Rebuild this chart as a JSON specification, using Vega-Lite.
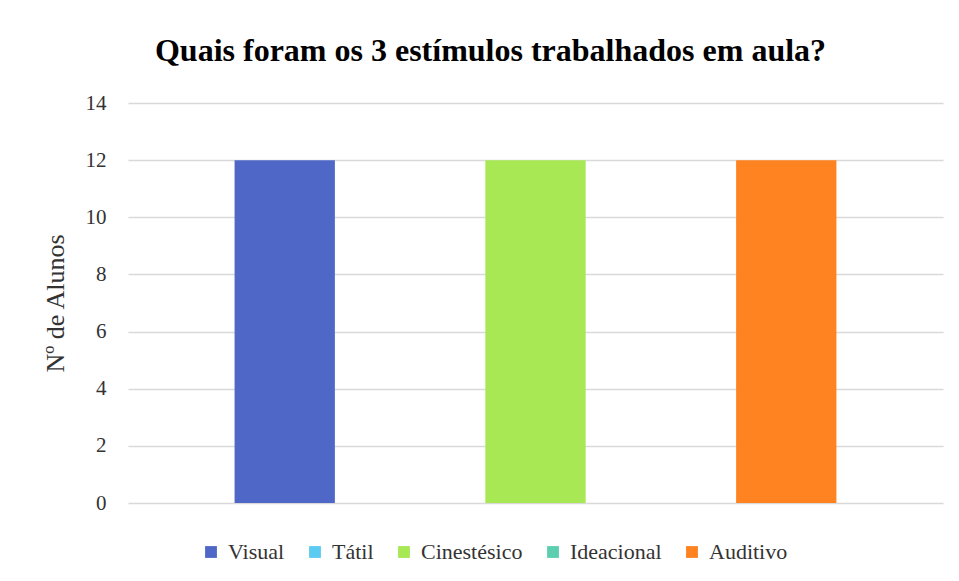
{
  "$schema": "https://vega.github.io/schema/vega-lite/v6.json",
  "width": 815,
  "height": 400,
  "autosize": {"type": "none"},
  "padding": {"left": 128, "top": 103, "right": 16, "bottom": 78},
  "background": "white",
  "title": {
    "text": "Quais foram os 3 estímulos trabalhados em aula?",
    "font": "Times New Roman, serif",
    "fontSize": 32,
    "fontWeight": "bold",
    "color": "#000000",
    "anchor": "middle",
    "dx": -45,
    "offset": 24
  },
  "data": {
    "values": [
      {"Estimulo": "Visual", "Alunos": 12},
      {"Estimulo": "Tátil", "Alunos": 0},
      {"Estimulo": "Cinestésico", "Alunos": 12},
      {"Estimulo": "Ideacional", "Alunos": 0},
      {"Estimulo": "Auditivo", "Alunos": 12}
    ]
  },
  "mark": {"type": "bar"},
  "encoding": {
    "x": {
      "field": "Estimulo",
      "type": "nominal",
      "sort": ["Visual", "Tátil", "Cinestésico", "Ideacional", "Auditivo"],
      "scale": {"paddingInner": 0.2, "paddingOuter": 0.85},
      "axis": null
    },
    "y": {
      "field": "Alunos",
      "type": "quantitative",
      "scale": {"domain": [0, 14]},
      "axis": {
        "title": "Nº de Alunos",
        "values": [0, 2, 4, 6, 8, 10, 12, 14],
        "domain": false,
        "ticks": false,
        "grid": true,
        "gridColor": "#d9d9d9",
        "gridWidth": 1.5,
        "labelFont": "Times New Roman, serif",
        "labelFontSize": 21,
        "labelColor": "#333333",
        "labelPadding": 22,
        "titleFont": "Times New Roman, serif",
        "titleFontSize": 26,
        "titleFontWeight": "normal",
        "titleColor": "#333333",
        "titlePadding": 17
      }
    },
    "color": {
      "field": "Estimulo",
      "type": "nominal",
      "sort": ["Visual", "Tátil", "Cinestésico", "Ideacional", "Auditivo"],
      "scale": {
        "domain": ["Visual", "Tátil", "Cinestésico", "Ideacional", "Auditivo"],
        "range": ["#4F68C8", "#5BCBF2", "#A8E855", "#5BCFB0", "#FF8321"]
      },
      "legend": {
        "title": null,
        "orient": "none",
        "direction": "horizontal",
        "legendX": 72,
        "legendY": 438,
        "symbolType": "square",
        "symbolSize": 140,
        "symbolStrokeWidth": 0,
        "labelFont": "Times New Roman, serif",
        "labelFontSize": 22,
        "labelColor": "#333333",
        "labelOffset": 6,
        "columnPadding": 19
      }
    }
  },
  "config": {
    "font": "Times New Roman, serif",
    "view": {"stroke": null}
  }
}
